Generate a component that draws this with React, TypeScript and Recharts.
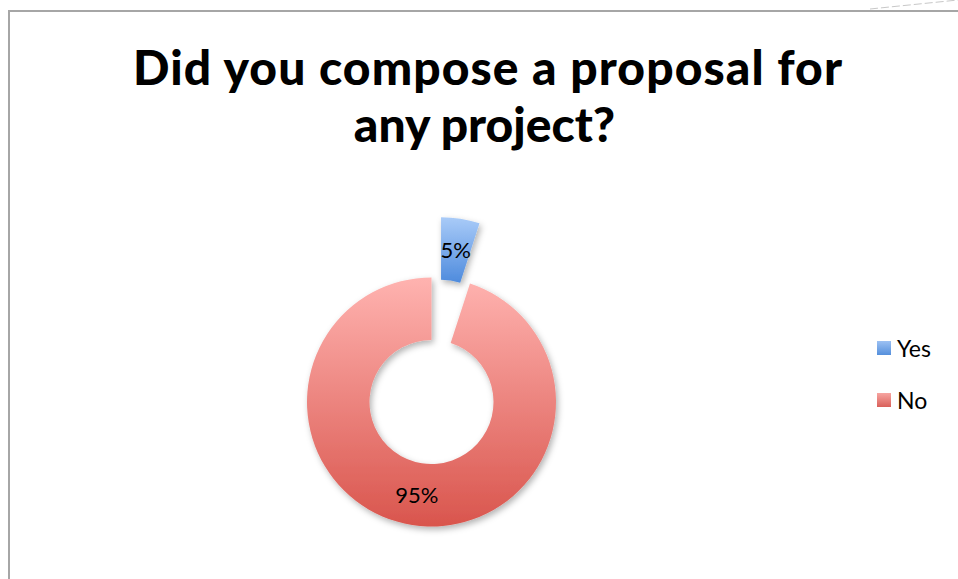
import React from 'react';
import { PieChart, Pie, Cell, Legend } from 'recharts';

const categories = ['Yes', 'No'];
const shares = [5, 95];
const titleLines = ['Did you compose a proposal for', 'any project?'];

const data = categories.map((name, i) => ({ name, value: shares[i] }));

const W = 958;
const H = 579;
const cx = 431.5;
const cy = 402;
const iR = 62;
const oR = 124.5;
const RADIAN = Math.PI / 180;

// Yes slice is pulled out of the ring along its mid angle
const explode = 61;
const yesMid = 90 - (shares[0] / (shares[0] + shares[1])) * 180;
const ex = cx + explode * Math.cos(yesMid * RADIAN);
const ey = cy - explode * Math.sin(yesMid * RADIAN);

const fills = ['url(#gradYes)', 'url(#gradNo)'];
const font = 'Lato, "Open Sans", sans-serif';

const makeLabel = (only: string) => (props: any) => {
  const { cx: x0, cy: y0, midAngle, innerRadius, outerRadius, name, percent } = props;
  if (name !== only) return null;
  const r = (innerRadius + outerRadius) / 2;
  const x = x0 + r * Math.cos(-midAngle * RADIAN);
  const y = y0 + r * Math.sin(-midAngle * RADIAN);
  return (
    <text x={x} y={y} textAnchor="middle" dominantBaseline="central" fill="#000" fontSize={22} fontFamily={font}>
      {`${Math.round(percent * 100)}%`}
    </text>
  );
};

const LegendBox = () => (
  <div style={{ fontFamily: font, fontSize: 23, color: '#000' }}>
    {categories.map((c, i) => (
      <div key={c} style={{ display: 'flex', alignItems: 'center', height: 52 }}>
        <svg width={14} height={14} style={{ marginRight: 6 }}>
          <rect width={14} height={14} fill={i === 0 ? 'url(#legYes)' : 'url(#legNo)'} />
        </svg>
        <span>{c}</span>
      </div>
    ))}
  </div>
);

export default function App() {
  return (
    <div style={{ position: 'absolute', left: 0, top: 0, width: W, height: H, background: '#fff', overflow: 'hidden' }}>
      <PieChart width={W} height={H} margin={{ top: 0, right: 0, bottom: 0, left: 0 }}>
        <defs>
          <linearGradient id="gradNo" x1="0" y1="0" x2="0" y2="1">
            <stop offset="0%" stopColor="#ffb3b0" />
            <stop offset="100%" stopColor="#d9554d" />
          </linearGradient>
          <linearGradient id="gradYes" x1="0" y1="0" x2="0" y2="1">
            <stop offset="0%" stopColor="#a9cbf8" />
            <stop offset="100%" stopColor="#4e8bdd" />
          </linearGradient>
          <linearGradient id="legNo" x1="0" y1="0" x2="0" y2="1">
            <stop offset="0%" stopColor="#f7a5a1" />
            <stop offset="100%" stopColor="#d9605a" />
          </linearGradient>
          <linearGradient id="legYes" x1="0" y1="0" x2="0" y2="1">
            <stop offset="0%" stopColor="#9cc1f3" />
            <stop offset="100%" stopColor="#5590dc" />
          </linearGradient>
          <filter id="shadow" x="-20%" y="-20%" width="140%" height="140%">
            <feDropShadow dx="2" dy="3" stdDeviation="3" floodColor="#000" floodOpacity="0.3" />
          </filter>
        </defs>

        {/* frame */}
        <line x1={9} y1={10} x2={9} y2={H} stroke="#a6a6a6" strokeWidth={2} />
        <line x1={8} y1={11} x2={W} y2={11} stroke="#a6a6a6" strokeWidth={2} />
        <line x1={870} y1={9} x2={958} y2={0} stroke="#c8c8c8" strokeWidth={1} strokeDasharray="8 3" />

        {titleLines.map((t, i) => (
          <text
            key={t}
            x={i === 0 ? 487.5 : 484.5}
            y={85 + i * 57}
            textAnchor="middle"
            fontFamily={font}
            fontWeight={900}
            fontSize={48}
            fill="#000"
            textLength={i === 0 ? 709 : undefined}
            lengthAdjust="spacing"
          >
            {t}
          </text>
        ))}

        <Pie
          data={data}
          dataKey="value"
          nameKey="name"
          cx={cx}
          cy={cy}
          innerRadius={iR}
          outerRadius={oR}
          startAngle={90}
          endAngle={-270}
          stroke="none"
          isAnimationActive={false}
          label={makeLabel('No')}
          labelLine={false}
          style={{ filter: 'url(#shadow)' }}
        >
          {data.map((d, i) => (
            <Cell key={d.name} fill={i === 1 ? fills[1] : 'none'} />
          ))}
        </Pie>
        <Pie
          data={data}
          dataKey="value"
          nameKey="name"
          cx={ex}
          cy={ey}
          innerRadius={iR}
          outerRadius={oR}
          startAngle={90}
          endAngle={-270}
          stroke="none"
          isAnimationActive={false}
          label={makeLabel('Yes')}
          labelLine={false}
          style={{ filter: 'url(#shadow)' }}
        >
          {data.map((d, i) => (
            <Cell key={d.name} fill={i === 0 ? fills[0] : 'none'} />
          ))}
        </Pie>
        <Legend
          layout="vertical"
          content={() => <LegendBox />}
          wrapperStyle={{ position: 'absolute', left: 877, top: 322, width: 80 }}
        />
      </PieChart>
    </div>
  );
}
